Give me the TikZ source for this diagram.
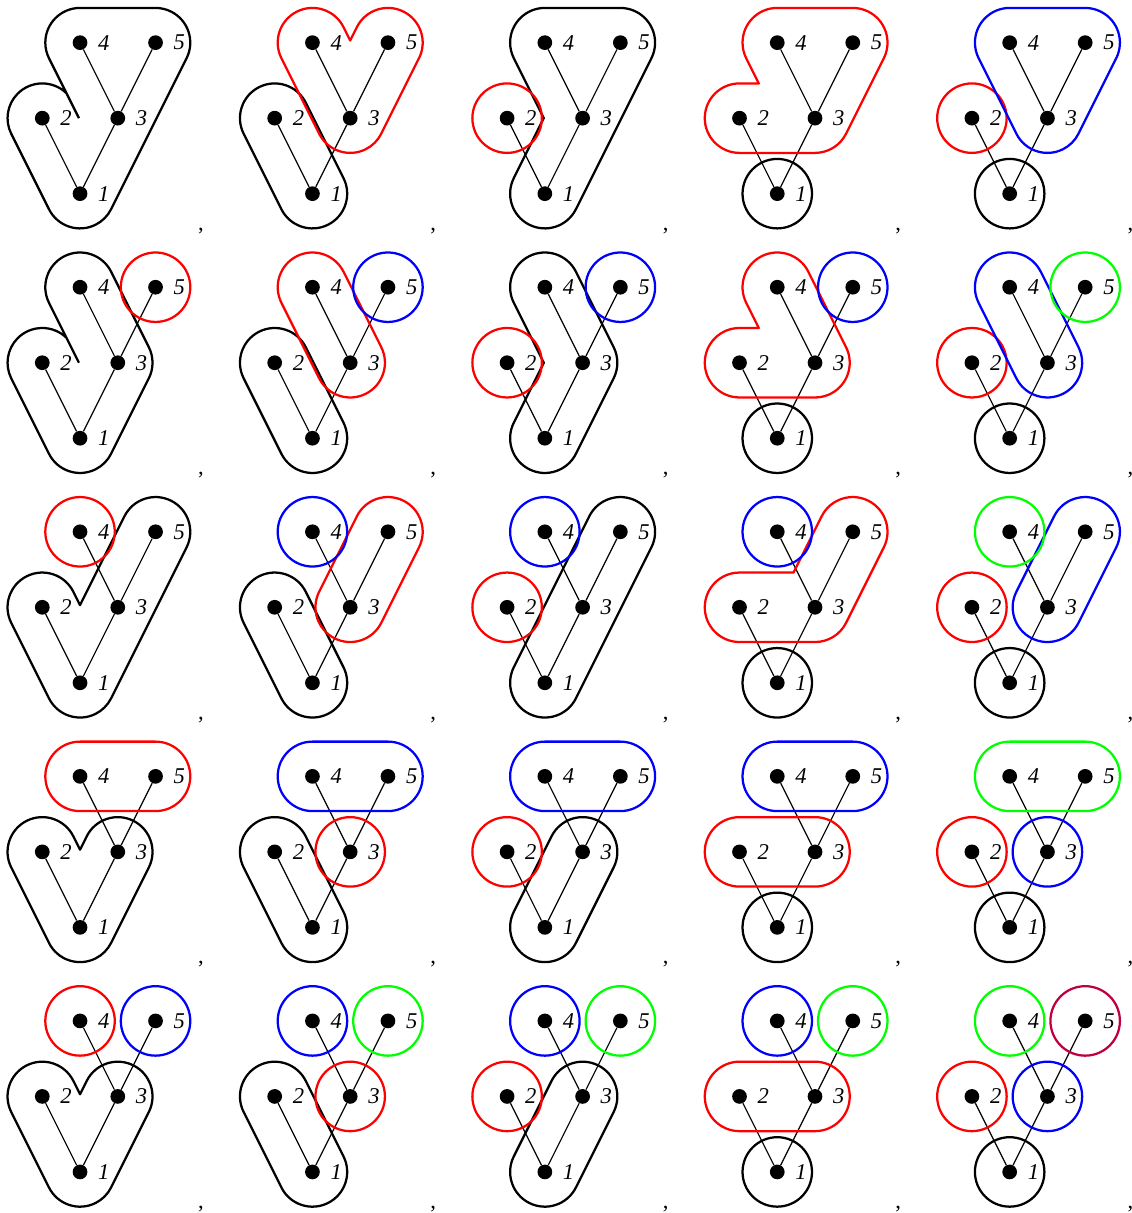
\documentclass[tikz,border=0pt]{standalone}
\usepackage{fontspec}
\newfontfamily\lblfont{Liberation Serif}[UprightFont=* Italic]
\newfontfamily\sepfont{Liberation Serif}
\usetikzlibrary{calc, positioning}
\newcommand{\blobr}{0.92}
\tikzset{
  vtx/.style={circle, fill=black, inner sep=0pt, minimum size=3.9mm},
  lbl/.style={font=\lblfont\fontsize{17}{20}\selectfont, inner sep=0pt},
  sepmark/.style={font=\sepfont\fontsize{17}{20}\selectfont, inner sep=0pt, anchor=base},
  edge/.style={line width=0.9pt},
  blob/.style={line width=1.7pt, line join=round},
}
% the tree 1-2, 1-3, 3-4, 3-5 with its labels
\newcommand{\tree}{%
  \node[vtx] (v1) at (0,0) {};
  \node[vtx] (v2) at (-1,2) {};
  \node[vtx] (v3) at (1,2) {};
  \node[vtx] (v4) at (0,4) {};
  \node[vtx] (v5) at (2,4) {};
  \foreach \i in {1,...,5} \node[lbl, right=2.7mm of v\i] (t\i) {\i};
  \draw[edge] (v1) -- (v2) (v1) -- (v3) (v3) -- (v4) (v3) -- (v5);
  \node[sepmark] (cm) at (3.2,-0.967) {,};
}
% blocks of the partition
\newcommand{\ring}[2]{\draw[blob,#1] (v#2) circle[radius=\blobr];}
\newcommand{\capsule}[4]{\draw[blob,#1] ($(v#2)+({#4-90}:\blobr)$) -- ($(v#3)+({#4-90}:\blobr)$)
  arc[start angle={#4-90}, delta angle=180, radius=\blobr] -- ($(v#2)+({#4+90}:\blobr)$)
  arc[start angle={#4+90}, delta angle=180, radius=\blobr] -- cycle;}
\newcommand{\hullVee}[1]{\draw[blob,#1] ($(v1)+(206.565:\blobr)$) arc[start angle=206.565, end angle=333.435, radius=\blobr]
  -- ($(v3)+(-26.565:\blobr)$) arc[start angle=-26.565, end angle=153.435, radius=\blobr]
  -- ($(v1)+(0,2.0572)$) -- ($(v2)+(26.565:\blobr)$) arc[start angle=26.565, end angle=206.565, radius=\blobr] -- cycle;}
\newcommand{\hullHeart}[1]{\draw[blob,#1] ($(v3)+(206.565:\blobr)$) arc[start angle=206.565, end angle=333.435, radius=\blobr]
  -- ($(v5)+(-26.565:\blobr)$) arc[start angle=-26.565, end angle=153.435, radius=\blobr]
  -- ($(v1)+(1,4.0572)$) -- ($(v4)+(26.565:\blobr)$) arc[start angle=26.565, end angle=206.565, radius=\blobr] -- cycle;}
\newcommand{\hullTri}[1]{\draw[blob,#1] ($(v3)+(206.565:\blobr)$) arc[start angle=206.565, end angle=333.435, radius=\blobr]
  -- ($(v5)+(-26.565:\blobr)$) arc[start angle=-26.565, end angle=90, radius=\blobr]
  -- ($(v4)+(90:\blobr)$) arc[start angle=90, end angle=206.565, radius=\blobr] -- cycle;}
\newcommand{\hullAll}[1]{\draw[blob,#1] ($(v1)+(206.565:\blobr)$) arc[start angle=206.565, end angle=333.435, radius=\blobr]
  -- ($(v5)+(-26.565:\blobr)$) arc[start angle=-26.565, end angle=90, radius=\blobr]
  -- ($(v4)+(90:\blobr)$) arc[start angle=90, end angle=206.565, radius=\blobr] -- ($(v1)+(-0.0286,2)$)
  ($(v2)+(45.76:\blobr)$) arc[start angle=45.76, end angle=206.565, radius=\blobr] -- ($(v1)+(206.565:\blobr)$);}
\newcommand{\hullBig}[1]{\draw[blob,#1] ($(v1)+(153.435:\blobr)$) arc[start angle=153.435, end angle=333.435, radius=\blobr]
  -- ($(v5)+(-26.565:\blobr)$) arc[start angle=-26.565, end angle=90, radius=\blobr]
  -- ($(v4)+(90:\blobr)$) arc[start angle=90, end angle=206.565, radius=\blobr] -- ($(v1)+(-0.0286,2)$) -- cycle;}
\newcommand{\hullStep}[1]{\draw[blob,#1] ($(v2)+(270:\blobr)$) -- ($(v3)+(270:\blobr)$) arc[start angle=270, end angle=333.435, radius=\blobr]
  -- ($(v5)+(-26.565:\blobr)$) arc[start angle=-26.565, end angle=90, radius=\blobr]
  -- ($(v4)+(90:\blobr)$) arc[start angle=90, end angle=206.565, radius=\blobr] -- ($(v1)+(-0.4886,2.92)$)
  -- ($(v2)+(90:\blobr)$) arc[start angle=90, end angle=270, radius=\blobr] -- cycle;}
\newcommand{\hullLeft}[1]{\draw[blob,#1] ($(v1)+(206.565:\blobr)$) arc[start angle=206.565, end angle=333.435, radius=\blobr]
  -- ($(v3)+(-26.565:\blobr)$) arc[start angle=-26.565, end angle=26.565, radius=\blobr]
  -- ($(v4)+(26.565:\blobr)$) arc[start angle=26.565, end angle=206.565, radius=\blobr] -- ($(v1)+(-0.0286,2)$)
  ($(v2)+(45.76:\blobr)$) arc[start angle=45.76, end angle=206.565, radius=\blobr] -- ($(v1)+(206.565:\blobr)$);}
\newcommand{\hullTall}[1]{\draw[blob,#1] ($(v1)+(153.435:\blobr)$) arc[start angle=153.435, end angle=333.435, radius=\blobr]
  -- ($(v3)+(-26.565:\blobr)$) arc[start angle=-26.565, end angle=26.565, radius=\blobr]
  -- ($(v4)+(26.565:\blobr)$) arc[start angle=26.565, end angle=206.565, radius=\blobr] -- ($(v1)+(-0.0286,2)$) -- cycle;}
\newcommand{\hullHook}[1]{\draw[blob,#1] ($(v2)+(270:\blobr)$) -- ($(v3)+(270:\blobr)$) arc[start angle=270, delta angle=116.565, radius=\blobr]
  -- ($(v4)+(26.565:\blobr)$) arc[start angle=26.565, end angle=206.565, radius=\blobr] -- ($(v1)+(-0.4886,2.92)$)
  -- ($(v2)+(90:\blobr)$) arc[start angle=90, end angle=270, radius=\blobr] -- cycle;}
\newcommand{\hullSpine}[1]{\draw[blob,#1] ($(v1)+(206.565:\blobr)$) arc[start angle=206.565, end angle=333.435, radius=\blobr]
  -- ($(v5)+(-26.565:\blobr)$) arc[start angle=-26.565, end angle=153.435, radius=\blobr]
  -- ($(v1)+(0,2.0572)$) -- ($(v2)+(26.565:\blobr)$) arc[start angle=26.565, end angle=206.565, radius=\blobr] -- cycle;}
\newcommand{\hullFlag}[1]{\draw[blob,#1] ($(v2)+(270:\blobr)$) -- ($(v3)+(270:\blobr)$) arc[start angle=270, end angle=333.435, radius=\blobr]
  -- ($(v5)+(-26.565:\blobr)$) arc[start angle=-26.565, end angle=153.435, radius=\blobr] -- ($(v1)+(0.4314,2.92)$)
  -- ($(v2)+(90:\blobr)$) arc[start angle=90, end angle=270, radius=\blobr] -- cycle;}
\newcommand{\cell}[3]{\begin{scope}[shift={(#1*6.156,-#2*6.478)}]\tree #3\end{scope}}

\begin{document}
\begin{tikzpicture}
    \useasboundingbox (-2.12,-27.0) rectangle (27.84,5.13);
    % row 1: {3,4,5}
    \cell{0}{0}{\hullAll{black}}
    \cell{1}{0}{\capsule{black}{1}{2}{116.565} \hullHeart{red}}
    \cell{2}{0}{\hullBig{black} \ring{red}{2}}
    \cell{3}{0}{\ring{black}{1} \hullStep{red}}
    \cell{4}{0}{\ring{black}{1} \ring{red}{2} \hullTri{blue}}
    % row 2: {3,4} {5}
    \cell{0}{1}{\hullLeft{black} \ring{red}{5}}
    \cell{1}{1}{\capsule{black}{1}{2}{116.565} \capsule{red}{3}{4}{116.565} \ring{blue}{5}}
    \cell{2}{1}{\hullTall{black} \ring{red}{2} \ring{blue}{5}}
    \cell{3}{1}{\ring{black}{1} \hullHook{red} \ring{blue}{5}}
    \cell{4}{1}{\ring{black}{1} \ring{red}{2} \capsule{blue}{3}{4}{116.565} \ring{green}{5}}
    % row 3: {3,5} {4}
    \cell{0}{2}{\hullSpine{black} \ring{red}{4}}
    \cell{1}{2}{\capsule{black}{1}{2}{116.565} \capsule{red}{3}{5}{63.435} \ring{blue}{4}}
    \cell{2}{2}{\capsule{black}{1}{5}{63.435} \ring{red}{2} \ring{blue}{4}}
    \cell{3}{2}{\ring{black}{1} \hullFlag{red} \ring{blue}{4}}
    \cell{4}{2}{\ring{black}{1} \ring{red}{2} \capsule{blue}{3}{5}{63.435} \ring{green}{4}}
    % row 4: {4,5} {3}
    \cell{0}{3}{\hullVee{black} \capsule{red}{4}{5}{0}}
    \cell{1}{3}{\capsule{black}{1}{2}{116.565} \ring{red}{3} \capsule{blue}{4}{5}{0}}
    \cell{2}{3}{\capsule{black}{1}{3}{63.435} \ring{red}{2} \capsule{blue}{4}{5}{0}}
    \cell{3}{3}{\ring{black}{1} \capsule{red}{2}{3}{0} \capsule{blue}{4}{5}{0}}
    \cell{4}{3}{\ring{black}{1} \ring{red}{2} \ring{blue}{3} \capsule{green}{4}{5}{0}}
    % row 5: {3} {4} {5}
    \cell{0}{4}{\hullVee{black} \ring{red}{4} \ring{blue}{5}}
    \cell{1}{4}{\capsule{black}{1}{2}{116.565} \ring{red}{3} \ring{blue}{4} \ring{green}{5}}
    \cell{2}{4}{\capsule{black}{1}{3}{63.435} \ring{red}{2} \ring{blue}{4} \ring{green}{5}}
    \cell{3}{4}{\ring{black}{1} \capsule{red}{2}{3}{0} \ring{blue}{4} \ring{green}{5}}
    \cell{4}{4}{\ring{black}{1} \ring{red}{2} \ring{blue}{3} \ring{green}{4} \ring{purple}{5}}
\end{tikzpicture}
\end{document}
